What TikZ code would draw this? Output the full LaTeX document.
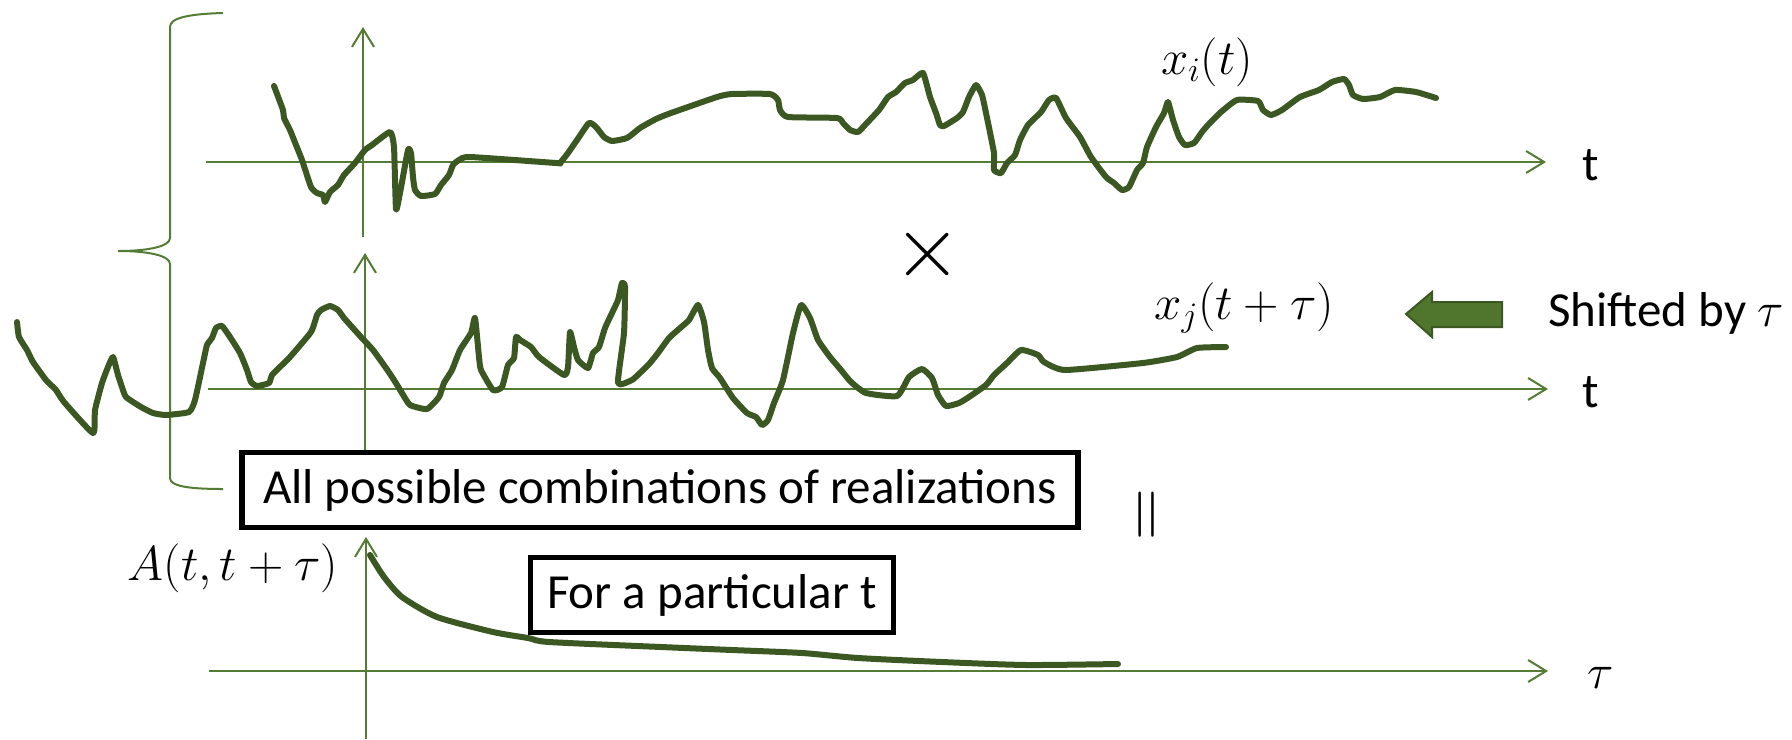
\RequirePackage{fix-cm}
\documentclass[tikz,border=0pt]{standalone}
\usepackage{fontspec}
\setmainfont{Carlito}
\usetikzlibrary{arrows.meta}
\definecolor{axisgreen}{RGB}{84,124,52}
\definecolor{curvegreen}{RGB}{60,88,34}
\definecolor{shiftfill}{RGB}{80,118,46}
\begin{document}
\begin{tikzpicture}[x=0.5pt, y=-0.5pt, every node/.style={font=\fontsize{24.5}{29}\selectfont, inner sep=0pt},
  ax/.style={-{Straight Barb[length=9pt,width=11pt]}, axisgreen, line width=1pt},
  realiz/.style={curvegreen, line width=3pt, line join=round, line cap=round},
  txtbox/.style={draw=black, line width=2.7pt, fill=white, minimum height=37.5pt}]
  \useasboundingbox (0,0) rectangle (1792,739);
  % axes
  \coordinate (h1a) at (206,162); \coordinate (h1b) at (1546,162);
  \coordinate (v1a) at (363,237); \coordinate (v1b) at (363,27);
  \coordinate (h2a) at (208,389); \coordinate (h2b) at (1548,389);
  \coordinate (v2a) at (365,450); \coordinate (v2b) at (365,253);
  \coordinate (h3a) at (209,671); \coordinate (h3b) at (1548,671);
  \coordinate (v3a) at (366,739); \coordinate (v3b) at (366,537);
  \draw[ax] (h1a) -- (h1b);
  \draw[ax] (v1a) -- (v1b);
  \draw[ax] (h2a) -- (h2b);
  \draw[ax] (v2a) -- (v2b);
  \draw[ax] (h3a) -- (h3b);
  \draw[ax] (v3a) -- (v3b);
  \node (t1) at (1591,165) {t};
  \node (t2) at (1591,392) {t};
  \node (tau) at (1601,678) {$\tau$};
  % brace
  \draw[axisgreen, line width=1pt] (223,13) .. controls (188,14) and (170,18) .. (170,27) -- (170,238)
    .. controls (170,246) and (150,251) .. (118,251) .. controls (150,251) and (170,256) .. (170,264)
    -- (170,478) .. controls (170,486) and (188,489) .. (223,489);
  % x_i(t)
  \draw[realiz] plot[smooth, tension=0.3] coordinates {(274,86) (283,110) (284,118) (290,130) (296,145)
    (302,160) (311,187) (317,193) (323,195) (325,202) (330,192) (338,185) (344,175) (355,163) (365,150)
    (372,145) (390,132) (394,147) (396,209) (400,193) (408,150) (411,153) (413,177) (415,190) (421,196)
    (435,194) (441,185) (449,175) (453,165) (459,160) (470,157) (556,163) (560,163) (568,153) (577,140)
    (589,123) (596,127) (604,137) (612,141) (627,138) (640,128) (656,119) (671,113) (717,97) (732,94)
    (770,94) (778,100) (780,110) (788,117) (837,118) (843,123) (850,130) (858,132) (865,125) (879,110)
    (888,97) (896,92) (905,83) (913,80) (923,73) (930,97) (936,113) (940,125) (944,126) (957,118)
    (963,112) (969,97) (976,85) (982,95) (986,113) (994,153) (994,170) (1001,173) (1007,163) (1015,155)
    (1020,140) (1028,125) (1041,112) (1049,100) (1056,98) (1066,118) (1080,137) (1091,157) (1106,177)
    (1114,183) (1122,190) (1129,187) (1137,170) (1143,163) (1147,147) (1156,127) (1164,113) (1168,102)
    (1173,120) (1179,137) (1185,145) (1194,143) (1202,132) (1208,125) (1221,112) (1237,100) (1258,101)
    (1263,110) (1271,115) (1282,110) (1300,97) (1319,90) (1332,82) (1344,79) (1349,85) (1353,95)
    (1363,99) (1380,97) (1395,90) (1416,92) (1436,98)};
  \node (xi) at (1207,62) {$x_i(t)$};
  \node[font=\fontsize{44}{48}\selectfont] (times) at (928,254) {$\times$};
  % x_j(t+tau)
  \draw[realiz] plot[smooth, tension=0.3] coordinates {(17,322) (19,337) (27,350) (33,362) (46,380)
    (56,390) (64,402) (93,433) (95,410) (102,383) (108,367) (113,357) (118,375) (122,387) (126,397)
    (141,407) (153,413) (166,415) (189,412) (195,400) (203,363) (207,345) (212,338) (216,328) (222,326)
    (230,337) (240,353) (247,370) (251,382) (257,386) (269,383) (272,375) (282,365) (290,357) (311,332)
    (317,315) (321,310) (330,306) (338,310) (344,318) (352,327) (361,337) (373,350) (386,368) (394,380)
    (402,393) (410,405) (427,409) (439,397) (444,383) (452,370) (460,350) (471,333) (475,318) (479,357)
    (481,370) (493,390) (502,387) (508,365) (514,358) (516,337) (520,340) (531,347) (539,357) (564,375)
    (568,367) (570,332) (574,347) (578,360) (588,368) (593,353) (599,347) (605,328) (612,313) (618,300)
    (622,283) (625,287) (624,333) (618,383) (632,380) (641,372) (650,363) (658,353) (669,338) (679,329)
    (689,320) (698,305) (704,322) (708,350) (712,368) (720,378) (733,398) (747,413) (756,417) (762,425)
    (768,420) (774,403) (783,380) (793,333) (801,305) (810,318) (818,340) (830,357) (841,370) (851,382)
    (866,393) (897,396) (909,377) (922,369) (932,378) (938,395) (946,406) (959,403) (969,397) (986,385)
    (994,375) (1007,363) (1021,350) (1038,355) (1044,362) (1065,370) (1143,363) (1177,357) (1197,348)
    (1226,347)};
  \node (xj) at (1244,308) {$x_j(t+\tau)$};
  % shift arrow
  \draw[fill=shiftfill, draw=curvegreen, line width=1pt] (1406,314) -- (1432,292) -- (1432,302) -- (1502,302)
    -- (1502,327) -- (1432,327) -- (1432,337) -- cycle;
  \node[anchor=west] (shift) at (1548,313) {Shifted by $\tau$};
  % A(t,t+tau)
  \draw[realiz] plot[smooth, tension=0.4] coordinates {(370,555) (384,577) (402,597) (437,617) (493,632)
    (528,638) (549,642) (661,647) (732,650) (802,653) (858,658) (942,662) (1026,665) (1118,664)};
  \node (A) at (233,568) {$A(t,t+\tau)$};
  \node[txtbox, minimum width=418pt] (allbox) at (660,490) {All possible combinations of realizations};
  \node[txtbox, minimum width=181.5pt] (partbox) at (712,595) {For a particular t};
  \node[rotate=90, font=\fontsize{36}{40}\selectfont] (eq) at (1152,515) {$=$};
\end{tikzpicture}
\end{document}
